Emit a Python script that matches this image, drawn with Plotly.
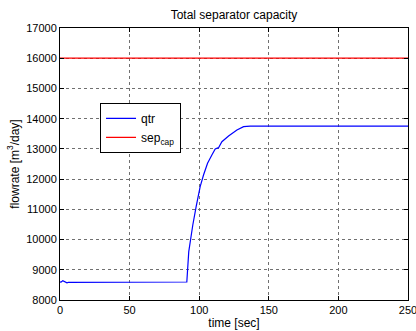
import plotly.graph_objects as go

# data
t_qtr = [0, 1, 2, 3, 4, 5, 6, 8, 10, 20, 40, 60, 80, 90, 91.1, 92.5, 94.0, 95.4, 97.8, 100.7,
         103.1, 106.0, 109.1, 111.5, 113.9, 116.3, 121.1, 127.1, 131.9, 136.7, 150, 200, 250]
v_qtr = [8590, 8600, 8640, 8620, 8600, 8570, 8580, 8580, 8590, 8595, 8595, 8595, 8595, 8595, 8595, 9600,
         10095, 10482, 11088, 11750, 12136, 12523, 12798, 12997, 13040, 13238, 13427, 13625,
         13735, 13750, 13750, 13750, 13750]
t_cap = [0, 250]
v_cap = [16000, 16000]

x_ticks = [0, 50, 100, 150, 200, 250]
x_labels = ["0", "50", "100", "150", "200", "250"]
y_ticks = [8000, 9000, 10000, 11000, 12000, 13000, 14000, 15000, 16000, 17000]
y_labels = ["8000", "9000", "10000", "11000", "12000", "13000", "14000", "15000", "16000", "17000"]

fig = go.Figure()
fig.add_trace(go.Scatter(x=t_qtr, y=v_qtr, mode="lines", name="qtr",
                         line=dict(color="#0000ff", width=1.2)))
fig.add_trace(go.Scatter(x=t_cap, y=v_cap, mode="lines", name="sep<sub>cap</sub>",
                         line=dict(color="#ff0000", width=1.2)))

axis_common = dict(showline=True, linecolor="black", linewidth=1, mirror="ticks",
                   ticks="inside", ticklen=4, tickcolor="black",
                   showgrid=True, gridcolor="#707070", griddash="dot", gridwidth=1,
                   zeroline=False, tickfont=dict(size=11, color="black"),
                   ticklabeloverflow="allow", automargin=False)

fig.update_layout(
    width=416, height=331,
    margin=dict(l=60, r=8, t=28, b=31),
    paper_bgcolor="white", plot_bgcolor="white",
    font=dict(family="Liberation Sans, Arial, sans-serif", size=11, color="black"),
    title=dict(text="Total separator capacity", x=0.5625, xanchor="center",
               y=0.955, yanchor="middle", font=dict(size=12)),
    xaxis=dict(range=[0, 250], tickvals=x_ticks, ticktext=x_labels,
               title=dict(text="time [sec]", standoff=2, font=dict(size=12)), **axis_common),
    yaxis=dict(range=[8000, 17000], tickvals=y_ticks, ticktext=y_labels,
               title=dict(text="flowrate [m<sup>3</sup>/day]", standoff=4, font=dict(size=12)),
               **axis_common),
    legend=dict(x=0.115, y=0.725, xanchor="left", yanchor="top",
                bgcolor="white", bordercolor="black", borderwidth=1,
                font=dict(size=12), tracegroupgap=0),
    showlegend=True,
)

fig.write_html("out.html")
